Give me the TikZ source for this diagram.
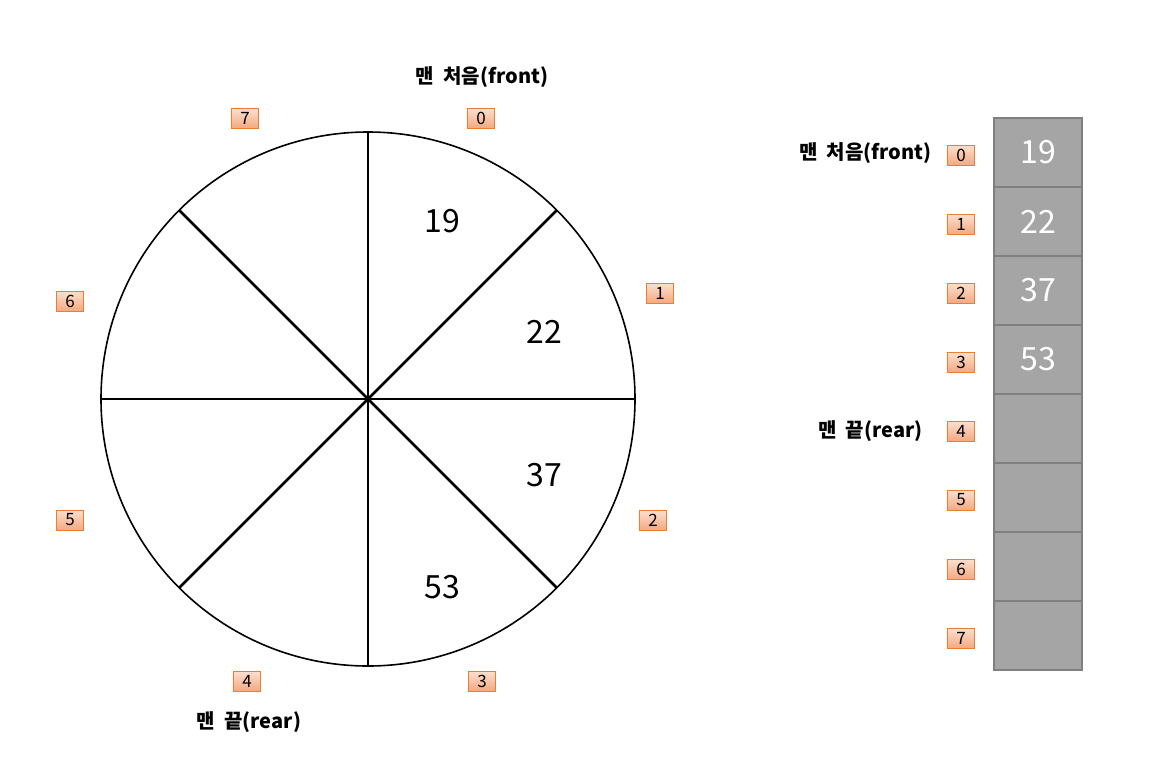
\documentclass[tikz,border=0pt]{standalone}
\usepackage{fontspec}
\usetikzlibrary{calc}
\setmainfont{Noto Sans CJK KR}
\newfontfamily\kr{Noto Sans CJK KR}
\definecolor{idxborder}{HTML}{ED7D31}
\definecolor{idxtop}{HTML}{FBE0D0}
\definecolor{idxbot}{HTML}{F4A980}
\definecolor{cellfill}{HTML}{A5A5A5}
\definecolor{cellborder}{HTML}{7F7F7F}
\tikzset{
  idx/.style={draw=idxborder, top color=idxtop, bottom color=idxbot, minimum width=27pt, minimum height=20pt, inner sep=0pt, font=\fontsize{17}{17}\selectfont, line width=0.8pt},
  val/.style={font=\fontsize{32}{32}\selectfont},
  cell/.style={draw=cellborder, fill=cellfill, line width=1.5pt, minimum width=88pt, minimum height=69pt, inner sep=0pt, text=white, font=\fontsize{32}{32}\selectfont},
  lab/.style={font=\kr\bfseries\fontsize{20}{20}\selectfont},
  spoke/.style={line width=2.5pt}
}
\begin{document}
\begin{tikzpicture}[x=1pt,y=-1pt]
\useasboundingbox (0,0) rectangle (1159,769);
\coordinate (c) at (368,399);
\draw[line width=1.6pt] (c) circle (267);
\foreach \a in {0,45,...,315}{
  \coordinate (p\a) at ($(c)+(\a:267)$);
}
\draw[spoke] (p90) -- (p270);
\draw[spoke] (p0) -- (p180);
\draw[spoke] (p45) -- (p225);
\draw[spoke] (p135) -- (p315);
\node[val] (v19) at (442,221) {19};
\node[val] (v22) at (544,332) {22};
\node[val] (v37) at (544,475) {37};
\node[val] (v53) at (442,587) {53};
\node[idx] (c0) at (481,118) {0};
\node[idx] (c1) at (660,293) {1};
\node[idx] (c2) at (653,520) {2};
\node[idx] (c3) at (482,681) {3};
\node[idx] (c4) at (247,681) {4};
\node[idx] (c5) at (70,520) {5};
\node[idx] (c6) at (70,301) {6};
\node[idx] (c7) at (245,118) {7};
\node[lab] (front1) at (482,77) {맨\ \ 처음(front)};
\node[lab] (rear1) at (249,722) {맨\ \ 끝(rear)};
% array
\foreach \i/\v in {0/19,1/22,2/37,3/53,4/,5/,6/,7/}{
  \node[cell] (a\i) at (1038,{152.5+69*\i}) {\v};
  \node[idx] (r\i) at (961,{155+69*\i}) {\i};
}
\node[lab,anchor=east] (front2) at (935,153) {맨\ \ 처음(front)};
\node[lab,anchor=east] (rear2) at (926,431) {맨\ \ 끝(rear)};
\end{tikzpicture}
\end{document}
